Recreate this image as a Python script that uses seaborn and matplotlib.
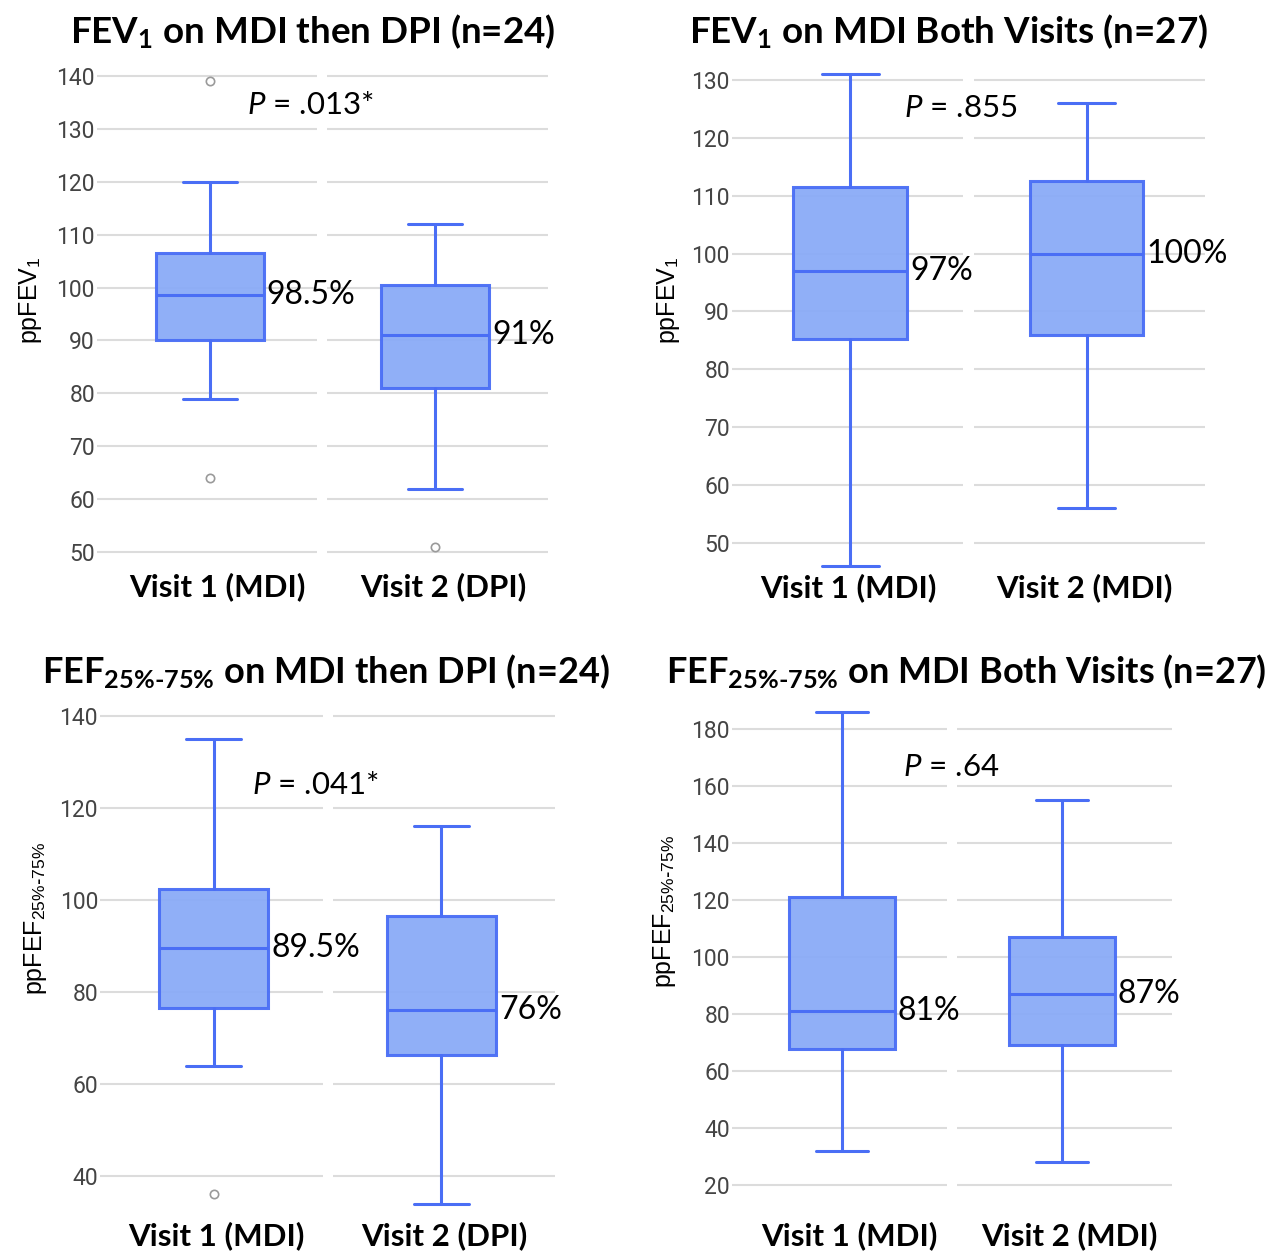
import matplotlib
matplotlib.use("Agg")
import matplotlib.pyplot as plt
import matplotlib.transforms as mtransforms
import seaborn as sns

# ---------------- data ----------------
visits_dpi = ["Visit 1 (MDI)", "Visit 2 (DPI)"]
visits_mdi = ["Visit 1 (MDI)", "Visit 2 (MDI)"]

# FEV1 on MDI then DPI (n=24)
fev_dpi_whislo = [79, 62]
fev_dpi_q1 = [90, 81]
fev_dpi_med = [98.5, 91]
fev_dpi_q3 = [106.5, 100.5]
fev_dpi_whishi = [120, 112]
fev_dpi_out = [[139, 64], [51]]
fev_dpi_p = ".013*"

# FEV1 on MDI both visits (n=27)
fev_mdi_whislo = [46, 56]
fev_mdi_q1 = [85.2, 86]
fev_mdi_med = [97, 100]
fev_mdi_q3 = [111.5, 112.5]
fev_mdi_whishi = [131, 126]
fev_mdi_out = [[], []]
fev_mdi_p = ".855"

# FEF25-75 on MDI then DPI (n=24)
fef_dpi_whislo = [64, 34]
fef_dpi_q1 = [76.5, 66.3]
fef_dpi_med = [89.5, 76]
fef_dpi_q3 = [102.5, 96.5]
fef_dpi_whishi = [135, 116]
fef_dpi_out = [[36], []]
fef_dpi_p = ".041*"

# FEF25-75 on MDI both visits (n=27)
fef_mdi_whislo = [32, 28]
fef_mdi_q1 = [67.6, 69]
fef_mdi_med = [81, 87]
fef_mdi_q3 = [121, 107]
fef_mdi_whishi = [186, 155]
fef_mdi_out = [[], []]
fef_mdi_p = ".64"

# ---------------- style ----------------
sns.set_theme(style="white")
plt.rcParams.update({
    "mathtext.fontset": "custom",
    "mathtext.rm": "Lato:bold",
    "mathtext.it": "Lato:italic",
    "mathtext.bf": "Lato:bold",
    "mathtext.sf": "Liberation Sans",
})

FACE = (0.54, 0.67, 0.97)
EDGE = "#4a6ef5"
GRID = "#dcdcdc"

fig = plt.figure(figsize=(12.71, 12.53), dpi=100)

SUB_T = r"\mathbf{25\%}\text{-}\mathbf{75\%}"
SUB_Y = r"\mathsf{25\%}\text{-}\mathsf{75\%}"

panels = [
    dict(rect=[0.0763, 0.5510, 0.3548, 0.3968], ylim=(48, 142), ticks=list(range(50, 141, 10)),
         cats=visits_dpi, lo=fev_dpi_whislo, q1=fev_dpi_q1, med=fev_dpi_med, q3=fev_dpi_q3,
         hi=fev_dpi_whishi, out=fev_dpi_out, p=fev_dpi_p, ppos=(0.445, 134.5), xpad=7, xshift=8,
         title=r"FEV$_{\mathbf{1}}$ on MDI then DPI (n=24)", tpos=(0.2459, 0.9654), tsize=26.5,
         ylabel=r"ppFEV$_{\mathsf{1}}$", ypos=(31 / 1271, 1 - 300 / 1253)),
    dict(rect=[0.5759, 0.5436, 0.3721, 0.4018], ylim=(45, 132), ticks=list(range(50, 131, 10)),
         cats=visits_mdi, lo=fev_mdi_whislo, q1=fev_mdi_q1, med=fev_mdi_med, q3=fev_mdi_q3,
         hi=fev_mdi_whishi, out=fev_mdi_out, p=fev_mdi_p, ppos=(0.468, 125.2), xpad=1, xshift=-2,
         title=r"FEV$_{\mathbf{1}}$ on MDI Both Visits (n=27)", tpos=(0.7463, 0.9653), tsize=26.5,
         ylabel=r"ppFEV$_{\mathsf{1}}$", ypos=(669 / 1271, 1 - 300 / 1253)),
    dict(rect=[0.0787, 0.0321, 0.3580, 0.4038], ylim=(32, 142), ticks=list(range(40, 141, 20)),
         cats=visits_dpi, lo=fef_dpi_whislo, q1=fef_dpi_q1, med=fef_dpi_med, q3=fef_dpi_q3,
         hi=fef_dpi_whishi, out=fef_dpi_out, p=fef_dpi_p, ppos=(0.445, 125), xpad=6, xshift=3,
         title=r"FEF$_{" + SUB_T + r"}$ on MDI then DPI (n=24)", tpos=(0.2561, 0.4547), tsize=26,
         ylabel=r"ppFEF$_{" + SUB_Y + r"}$", ypos=(36 / 1271, 1 - 918 / 1253)),
    dict(rect=[0.5759, 0.0406, 0.3462, 0.3958], ylim=(14, 188), ticks=list(range(20, 181, 20)),
         cats=visits_mdi, lo=fef_mdi_whislo, q1=fef_mdi_q1, med=fef_mdi_med, q3=fef_mdi_q3,
         hi=fef_mdi_whishi, out=fef_mdi_out, p=fef_mdi_p, ppos=(0.495, 166.7), xpad=14, xshift=7,
         title=r"FEF$_{" + SUB_T + r"}$ on MDI Both Visits (n=27)", tpos=(0.7600, 0.4547), tsize=26,
         ylabel=r"ppFEF$_{" + SUB_Y + r"}$", ypos=(665 / 1271, 1 - 911 / 1253)),
]

WIDTH = 0.48
for pn in panels:
    ax = fig.add_axes(pn["rect"])
    stats = []
    for i in range(2):
        stats.append(dict(med=pn["med"][i], q1=pn["q1"][i], q3=pn["q3"][i],
                          whislo=pn["lo"][i], whishi=pn["hi"][i],
                          fliers=pn["out"][i], label=pn["cats"][i]))
    ax.bxp(stats, positions=[0, 1], widths=WIDTH, patch_artist=True, showfliers=True,
           boxprops=dict(facecolor=FACE, edgecolor=EDGE, linewidth=2.2, alpha=0.95),
           medianprops=dict(color=EDGE, linewidth=2.2),
           whiskerprops=dict(color=EDGE, linewidth=2.2),
           capprops=dict(color=EDGE, linewidth=2.2),
           flierprops=dict(marker="o", markerfacecolor="white", markeredgecolor="#9a9a9a",
                           markersize=6, markeredgewidth=1.2),
           zorder=3)
    for t in pn["ticks"]:
        ax.hlines(t, -0.5, 0.478, color=GRID, lw=1.5, zorder=1)
        ax.hlines(t, 0.522, 1.5, color=GRID, lw=1.5, zorder=1)
    ax.set_xlim(-0.5, 1.5)
    ax.set_ylim(*pn["ylim"])
    ax.set_yticks(pn["ticks"])
    ax.set_xticks([0, 1])
    ax.set_xticklabels(pn["cats"])
    ax.grid(False)
    sns.despine(ax=ax, left=True, bottom=True)
    ax.tick_params(axis="y", length=0, pad=1.5, labelsize=16.5, labelcolor="#444444")
    ax.tick_params(axis="x", length=0, pad=pn["xpad"], labelsize=22.5, labelcolor="black")
    for lab in ax.get_yticklabels():
        lab.set_fontfamily("Roboto")
    shift = mtransforms.ScaledTranslation(pn["xshift"] / 100, 0, fig.dpi_scale_trans)
    for lab in ax.get_xticklabels():
        lab.set_fontfamily("Lato")
        lab.set_fontweight("bold")
        lab.set_transform(lab.get_transform() + shift)
    # median labels
    for i in range(2):
        m = pn["med"][i]
        ax.annotate(f"{m:g}%", xy=(i + WIDTH / 2, m), xytext=(3, 0), textcoords="offset pixels",
                    ha="left", va="center", fontsize=23, family="Lato", color="black", zorder=5)
    # P value
    ax.text(pn["ppos"][0], pn["ppos"][1], r"$\mathit{P}$ = " + pn["p"], ha="center", va="center",
            fontsize=22.5, family="Lato", color="black")
    # title and y label
    fig.text(pn["tpos"][0], pn["tpos"][1], pn["title"], ha="center", va="baseline",
             fontsize=pn["tsize"], family="Lato", fontweight="bold", color="black")
    fig.text(pn["ypos"][0], pn["ypos"][1], pn["ylabel"], ha="center", va="center", rotation=90,
             fontsize=18, family="Liberation Sans", color="black")

fig.savefig("out.png", dpi=100)
